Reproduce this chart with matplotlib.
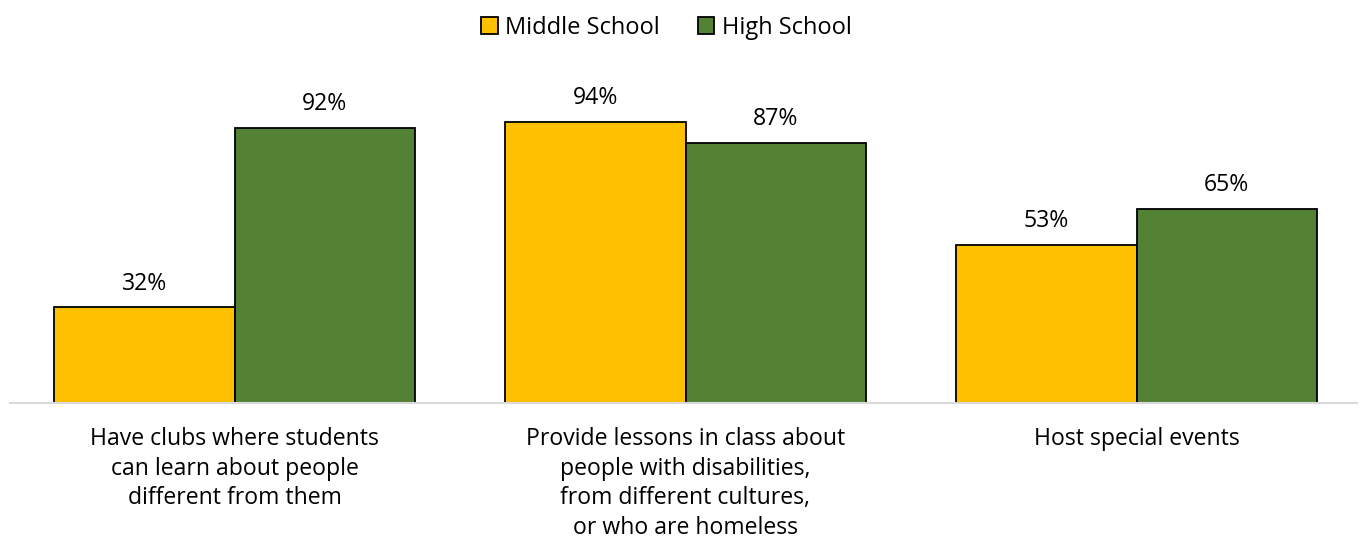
import matplotlib
matplotlib.use("Agg")
import matplotlib.pyplot as plt
import numpy as np

categories = [
    "Have clubs where students\ncan learn about people\ndifferent from them",
    "Provide lessons in class about\npeople with disabilities,\nfrom different cultures,\nor who are homeless",
    "Host special events",
]
series_names = ["Middle School", "High School"]
middle_school = [32, 94, 53]
high_school = [92, 87, 65]
colors = ["#FFC000", "#548235"]

plt.rcParams["font.family"] = ["Open Sans", "DejaVu Sans"]

W, H = 1367, 548
fig = plt.figure(figsize=(W / 100, H / 100), dpi=100)
ax = fig.add_axes([9 / W, 145 / H, 1353 / W, 299 / H])

x = np.arange(len(categories))
width = 0.4
for i, (name, vals) in enumerate(zip(series_names, [middle_school, high_school])):
    offs = (i - 0.5) * width
    bars = ax.bar(x + offs, vals, width, color=colors[i], edgecolor="black",
                  linewidth=1.3, label=name, zorder=3)
    for b, v in zip(bars, vals):
        ax.annotate(f"{v}%", (b.get_x() + b.get_width() / 2, v),
                    xytext=(0, 8.5), textcoords="offset points",
                    ha="center", va="bottom", fontsize=16.6, color="#000000")

ax.set_xlim(-0.5, 2.5)
ax.set_ylim(0, 100)
ax.set_yticks([])
ax.set_xticks(x)
ax.set_xticklabels(categories, fontsize=16.6, linespacing=1.33)
ax.tick_params(axis="x", length=0, pad=17)
for s in ["top", "right", "left"]:
    ax.spines[s].set_visible(False)
ax.spines["bottom"].set_color("#D9D9D9")
ax.spines["bottom"].set_linewidth(1.5)
ax.spines["bottom"].set_zorder(4)
ax.spines["bottom"].set_bounds(-0.5 + 1 / 451, 2.5 - 5 / 451)

fig.legend(loc="center", bbox_to_anchor=(666.5 / W, 1 - 28 / H), ncol=2,
           frameon=False, fontsize=17, handlelength=0.7, handleheight=0.7,
           handletextpad=0.33, columnspacing=1.6, borderpad=0)

fig.savefig("out.png", dpi=100)
